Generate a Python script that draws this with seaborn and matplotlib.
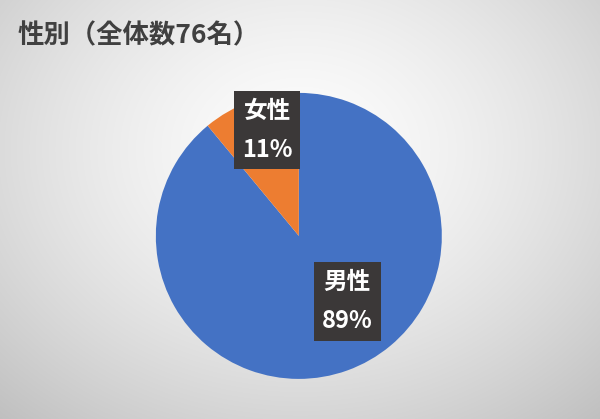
import numpy as np
import matplotlib
matplotlib.use("Agg")
import matplotlib.pyplot as plt
import seaborn as sns

# データ
labels = ["男性", "女性"]
percents = [89, 11]
colors = ["#4472C4", "#ED7D31"]
title = "性別（全体数76名）"

sns.set_style("white")
plt.rcParams['font.family'] = ['Noto Sans CJK JP', 'DejaVu Sans']

fig = plt.figure(figsize=(6, 4.19), dpi=100)

# 背景グラデーション
bg = fig.add_axes([0, 0, 1, 1])
yy, xx = np.mgrid[0:419, 0:600]
d = np.sqrt(((xx - 300) / 400.0) ** 2 + ((yy - 150) / 320.0) ** 2)
shade = np.clip(0.99 - 0.2 * d ** 1.5, 0, 1)
bg.imshow(np.dstack([shade, shade, shade]), aspect="auto", extent=[0, 1, 0, 1])
bg.set_axis_off()

fig.text(0.03, 0.915, title, fontsize=19, fontweight="bold", color="#404040",
         ha="left", va="center")

# 円グラフ
ax = fig.add_axes([0.498 - 0.2383, 0.437 - 0.3413, 0.4767, 0.6826])
wedges, _ = ax.pie(percents, colors=colors, startangle=90, counterclock=False,
                   wedgeprops=dict(linewidth=0))
ax.set_xlim(-1, 1)
ax.set_ylim(-1, 1)
ax.set_aspect("equal")

label_pos = [(0.34, -0.46), (-0.22, 0.74)]
for lab, p, (x, y) in zip(labels, percents, label_pos):
    ax.text(x, y, f"{lab}\n{p}%", fontsize=17, fontweight="bold", color="white",
            ha="center", va="center", linespacing=1.8,
            bbox=dict(boxstyle="square,pad=0.33", fc="#3B3838", ec="none"))

fig.savefig("out.png", dpi=100)
